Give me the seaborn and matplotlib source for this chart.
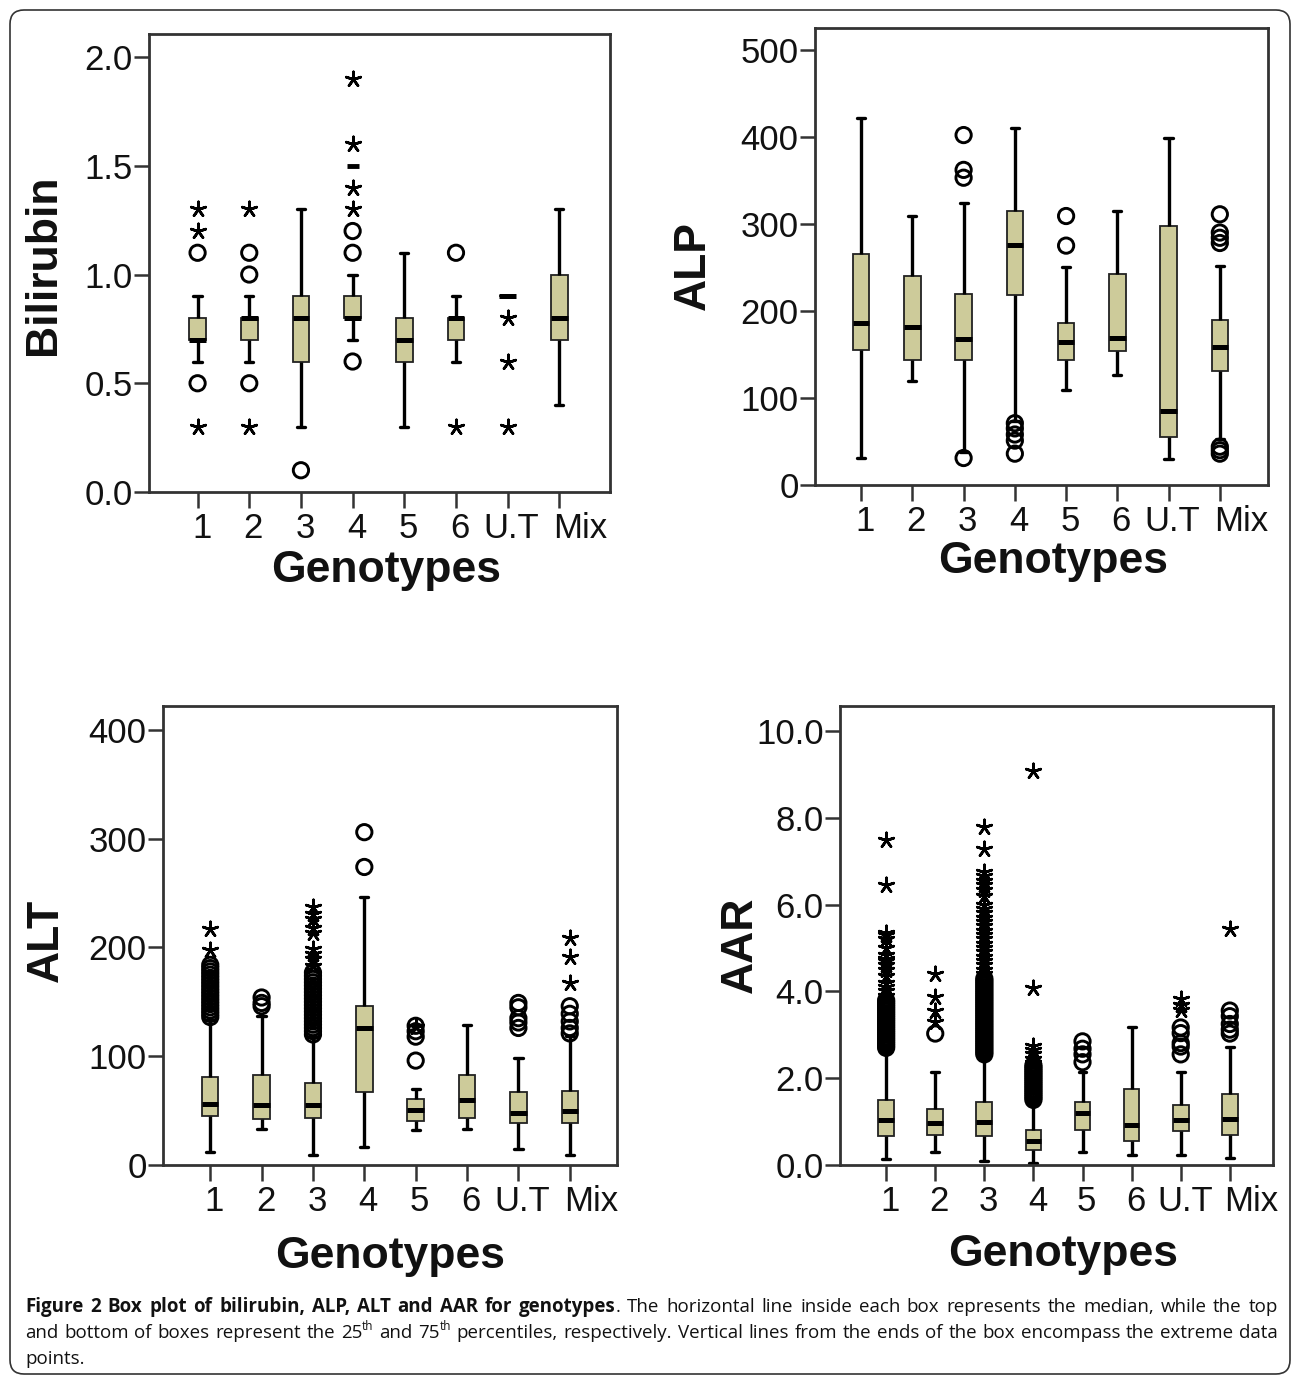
import matplotlib
matplotlib.use("Agg")
import pandas as pd
import matplotlib.pyplot as plt
import seaborn as sns
from matplotlib import font_manager as fm
from matplotlib.patches import FancyBboxPatch
from matplotlib.transforms import IdentityTransform, ScaledTranslation
from matplotlib.ticker import FormatStrFormatter

# ---------------- data ----------------
genotypes = ["1", "2", "3", "4", "5", "6", "U.T", "Mix"]

# Bilirubin: five-number summary per genotype (lower whisker, Q1, median, Q3, upper whisker)
bil_low = [0.6, 0.6, 0.3, 0.7, 0.3, 0.6, 0.9, 0.4]
bil_q1 = [0.7, 0.7, 0.6, 0.8, 0.6, 0.7, 0.9, 0.7]
bil_med = [0.7, 0.8, 0.8, 0.8, 0.7, 0.8, 0.9, 0.8]
bil_q3 = [0.8, 0.8, 0.9, 0.9, 0.8, 0.8, 0.9, 1.0]
bil_high = [0.9, 0.9, 1.3, 1.0, 1.1, 0.9, 0.9, 1.3]
bil_circles = {"1": [1.1, 0.5], "2": [1.1, 1.0, 0.5], "3": [0.1],
               "4": [1.1, 1.2, 0.6], "6": [1.1]}
bil_stars = {"1": [1.3, 1.2, 0.3], "2": [1.3, 0.3], "4": [1.3, 1.4, 1.6, 1.9],
             "6": [0.3], "U.T": [0.8, 0.6, 0.3]}
bil_dashes = {"4": [1.5]}

# ALP
alp_low = [31, 119, 38, 74, 109, 126, 30, 53]
alp_q1 = [155, 144, 144, 218, 144, 154, 55, 131]
alp_med = [186, 182, 168, 276, 164, 169, 85, 159]
alp_q3 = [265, 240, 219, 315, 186, 242, 297, 189]
alp_high = [422, 309, 324, 410, 250, 315, 399, 252]
alp_circles = {"3": [402, 362, 353, 31], "4": [71, 65, 58, 51, 36],
               "5": [309, 275], "Mix": [311, 290, 284, 278, 44, 40, 36]}
alp_stars = {}
alp_dashes = {}

# ALT
alt_low = [12, 33, 9, 17, 32, 33, 15, 9]
alt_q1 = [45, 42, 43, 67, 40, 43, 39, 39]
alt_med = [56, 55, 55, 126, 51, 60, 48, 50]
alt_q3 = [81, 83, 75, 146, 61, 83, 67, 68]
alt_high = [133, 137, 118, 246, 70, 129, 98, 119]
alt_circles = {
    "1": [136, 139, 142, 145, 148, 151, 154, 157, 160, 163, 166, 169, 172, 175, 178, 181, 184],
    "2": [154, 149, 146],
    "3": [120, 123, 126, 129, 132, 135, 138, 141, 144, 147, 150, 153, 156, 159, 162, 165,
          168, 171, 174, 177],
    "4": [306, 274],
    "5": [96, 118, 123, 128],
    "U.T": [149, 145, 135, 131, 126],
    "Mix": [146, 139, 132, 126, 121],
}
alt_stars = {"1": [217, 198], "3": [237, 231, 226, 218, 213, 199, 194, 189, 183],
             "5": [127], "Mix": [209, 191, 167]}
alt_dashes = {}

# AAR
aar_low = [0.13, 0.29, 0.10, 0.05, 0.31, 0.22, 0.22, 0.16]
aar_q1 = [0.66, 0.70, 0.66, 0.35, 0.81, 0.55, 0.79, 0.70]
aar_med = [1.03, 0.97, 0.99, 0.55, 1.19, 0.92, 1.03, 1.06]
aar_q3 = [1.50, 1.29, 1.45, 0.81, 1.45, 1.76, 1.38, 1.63]
aar_high = [2.64, 2.15, 2.50, 1.45, 2.15, 3.17, 2.15, 2.73]
aar_circles = {
    "1": [2.70, 2.75, 2.80, 2.85, 2.90, 2.95, 3.00, 3.05, 3.10, 3.15, 3.20, 3.25, 3.30,
          3.35, 3.40, 3.45, 3.50, 3.55, 3.60, 3.65, 3.70, 3.75, 3.80],
    "2": [3.03],
    "3": [2.55, 2.60, 2.65, 2.70, 2.75, 2.80, 2.85, 2.90, 2.95, 3.00, 3.05, 3.10, 3.15,
          3.20, 3.25, 3.30, 3.35, 3.40, 3.45, 3.50, 3.55, 3.60, 3.65, 3.70, 3.75, 3.80,
          3.85, 3.90, 3.95, 4.00, 4.05, 4.10, 4.15, 4.20, 4.25, 4.30],
    "4": [1.50, 1.55, 1.60, 1.65, 1.70, 1.75, 1.80, 1.85, 1.90, 1.95, 2.00, 2.05, 2.10,
          2.15, 2.20, 2.25, 2.30],
    "5": [2.37, 2.55, 2.68, 2.85],
    "U.T": [2.55, 2.73, 2.81, 3.04, 3.17],
    "Mix": [3.03, 3.12, 3.25, 3.43, 3.56],
}
aar_stars = {
    "1": [3.90, 4.00, 4.10, 4.20, 4.35, 4.50, 4.60, 4.70, 4.75, 4.85, 5.00, 5.20, 5.30,
          5.35, 6.45, 7.50],
    "2": [4.40, 3.87, 3.56, 3.30],
    "3": [4.40, 4.50, 4.60, 4.70, 4.80, 4.90, 5.00, 5.10, 5.20, 5.30, 5.40, 5.50, 5.60,
          5.70, 5.80, 5.90, 6.00, 6.20, 6.35, 6.45, 6.55, 6.65, 6.75, 7.28, 7.78],
    "4": [2.35, 2.45, 2.55, 2.65, 2.75, 4.09, 9.08],
    "U.T": [3.58, 3.69, 3.83],
    "Mix": [5.44],
}
aar_dashes = {}

# ---------------- style ----------------
W, H = 1293, 1376
sns.set_theme(style="white")
MAIN_FONT = ["Liberation Sans", "DejaVu Sans"]
plt.rcParams["font.family"] = MAIN_FONT
BOX_COLOR = "#cdcb9a"
EDGE = "#222222"
AX_COLOR = "#333333"


def pick_font(names):
    for n in names:
        try:
            fm.findfont(fm.FontProperties(family=n), fallback_to_default=False)
            return n
        except Exception:
            pass
    return "DejaVu Sans"


CAP_FONT = pick_font(["Open Sans", "Noto Sans", "Liberation Sans"])

fig = plt.figure(figsize=(W / 100, H / 100), dpi=100)
fig.patch.set_facecolor("white")


def px_axes(left, right, top, bottom):
    return fig.add_axes([left / W, 1 - bottom / H, (right - left) / W, (bottom - top) / H])


def box_frame(low, q1, med, q3, high):
    rows = []
    for g, a, b, c, d, e in zip(genotypes, low, q1, med, q3, high):
        for v in (a, b, c, d, e):
            rows.append((g, v))
    return pd.DataFrame(rows, columns=["genotype", "value"])


def groups_frame(groups):
    cats, vals = [], []
    for g, vs in groups.items():
        cats += [g] * len(vs)
        vals += list(vs)
    return pd.DataFrame({"genotype": cats, "value": vals})


def draw_points(ax, groups, kind):
    df = groups_frame(groups)
    if df.empty:
        return
    if kind == "circle":
        sns.stripplot(data=df, x="genotype", y="value", order=genotypes, jitter=False,
                      marker="o", size=11, linewidth=2.1, color="black",
                      edgecolor="black", facecolors="none", ax=ax, zorder=5)
    elif kind == "star":
        sns.stripplot(data=df, x="genotype", y="value", order=genotypes, jitter=False,
                      marker=(5, 2, 0), size=11, linewidth=1.9, color="black",
                      ax=ax, zorder=5)
    else:
        sns.stripplot(data=df, x="genotype", y="value", order=genotypes, jitter=False,
                      marker="_", size=8, linewidth=3.5, color="black", ax=ax, zorder=5)


def panel(ax, low, q1, med, q3, high, circles, stars, dashes, ylabel, yticks, fmt,
          ylim, xlim, xlab_pos, ylab_pos):
    df = box_frame(low, q1, med, q3, high)
    sns.boxplot(data=df, x="genotype", y="value", order=genotypes, whis=(0, 100),
                width=0.32, color=BOX_COLOR, saturation=1, linecolor=EDGE, linewidth=1.3,
                showfliers=False,
                medianprops=dict(color="black", linewidth=3.6),
                whiskerprops=dict(color="black", linewidth=2.4),
                capprops=dict(color="black", linewidth=2.4),
                ax=ax)
    draw_points(ax, circles, "circle")
    draw_points(ax, stars, "star")
    draw_points(ax, dashes, "dash")

    ax.set_xlim(*xlim)
    ax.set_ylim(*ylim)
    ax.set_xticks(range(len(genotypes)))
    ax.set_yticks(yticks)
    ax.yaxis.set_major_formatter(FormatStrFormatter(fmt))
    ax.tick_params(axis="both", direction="out", bottom=True, left=True,
                   color=AX_COLOR, width=1.8)
    ax.tick_params(axis="x", length=11.5, pad=3)
    ax.tick_params(axis="y", length=10.8, pad=1)
    ax.set_xticklabels(genotypes, fontsize=25, color="#111111")
    for t in ax.get_yticklabels():
        t.set_fontsize(25)
        t.set_color("#111111")
    # tick labels sit slightly right of their ticks; "Mix" noticeably so
    for i, tk in enumerate(ax.xaxis.get_major_ticks()):
        dx = 21 if i == len(genotypes) - 1 else 4
        lab = tk.label1
        lab.set_transform(lab.get_transform()
                          + ScaledTranslation(dx / 100, 0, fig.dpi_scale_trans))
    for s in ax.spines.values():
        s.set_visible(True)
        s.set_color(AX_COLOR)
        s.set_linewidth(2.0)
    ax.set_xlabel("Genotypes", fontsize=32, fontweight="bold", color="#111111")
    ax.xaxis.set_label_coords(*xlab_pos)
    ax.xaxis.label.set_va("center")
    ax.set_ylabel(ylabel, fontsize=32, fontweight="bold", color="#111111")
    ax.yaxis.set_label_coords(*ylab_pos)
    ax.yaxis.label.set_va("center")
    ax.grid(False)


ax1 = px_axes(149, 610, 34, 492)
panel(ax1, bil_low, bil_q1, bil_med, bil_q3, bil_high, bil_circles, bil_stars, bil_dashes,
      "Bilirubin", [0.0, 0.5, 1.0, 1.5, 2.0], "%.1f", (0, 2.106), (-0.94, 7.98),
      (0.515, -0.171), (-0.228, 0.497))

ax2 = px_axes(815, 1268, 28, 485)
panel(ax2, alp_low, alp_q1, alp_med, alp_q3, alp_high, alp_circles, alp_stars, alp_dashes,
      "ALP", [0, 100, 200, 300, 400, 500], "%d", (0, 525), (-0.9, 7.94),
      (0.525, -0.168), (-0.269, 0.48))

ax3 = px_axes(163, 617, 706, 1165)
panel(ax3, alt_low, alt_q1, alt_med, alt_q3, alt_high, alt_circles, alt_stars, alt_dashes,
      "ALT", [0, 100, 200, 300, 400], "%d", (0, 422), (-0.92, 7.92),
      (0.5, -0.2), (-0.256, 0.49))

ax4 = px_axes(840, 1273, 706, 1165)
panel(ax4, aar_low, aar_q1, aar_med, aar_q3, aar_high, aar_circles, aar_stars, aar_dashes,
      "AAR", [0.0, 2.0, 4.0, 6.0, 8.0, 10.0], "%.1f", (0, 10.58), (-0.94, 7.88),
      (0.515, -0.196), (-0.231, 0.48))

# ---------------- caption ----------------
cap_bold = "Figure 2 Box plot of bilirubin, ALP, ALT and AAR for genotypes"
cap_line1_rest = ". The horizontal line inside each box represents the median, while the top"
cap_line2 = ("and bottom of boxes represent the 25^th and 75^th percentiles, respectively. "
             "Vertical lines from the ends of the box encompass the extreme data")
cap_line3 = "points."

fig.canvas.draw()
renderer = fig.canvas.get_renderer()


def cap_text(x, y, text, size, weight):
    return fig.text(x, y, text, fontsize=size, fontweight=weight, family=CAP_FONT,
                    va="baseline", ha="left", color="#111111")


def measure(text, weight, size):
    t = cap_text(0, 0, text, size, weight)
    w = t.get_window_extent(renderer).width
    t.remove()
    return w


def words_normal(s):
    out = []
    for w in s.split():
        if "^" in w:
            base, sup = w.split("^")
            out.append([(base, "n"), (sup, "s")])
        else:
            out.append([(w, "n")])
    return out


line1 = [[(w, "b")] for w in cap_bold.split()]
rest = cap_line1_rest.split()
line1[-1].append((rest[0], "n"))
line1 += [[(w, "n")] for w in rest[1:]]
line2 = words_normal(cap_line2)
line3 = words_normal(cap_line3)

X0, X1 = 25, 1278


def piece_w(text, style, size):
    if style == "b":
        return measure(text, "bold", size)
    if style == "s":
        return measure(text, "normal", size * 0.62)
    return measure(text, "normal", size)


def line_natural(words, size):
    sp = measure("a a", "normal", size) - measure("aa", "normal", size)
    ws = [sum(piece_w(t, st, size) for t, st in w) for w in words]
    return sum(ws) + sp * (len(words) - 1), ws, sp


base_size = 14.0
nat2, _, _ = line_natural(line2, base_size)
nat1, _, _ = line_natural(line1, base_size)
target = X1 - X0
cap_size = base_size * max(0.8, min(1.08, 0.995 * target / max(nat2, nat1)))


def draw_line(words, y_base, justify):
    nat, ws, sp = line_natural(words, cap_size)
    gap = (target - sum(ws)) / (len(words) - 1) if (justify and len(words) > 1) else sp
    x = X0
    em = cap_size * 100 / 72
    for w, wd in zip(words, ws):
        xx = x
        for t, st in w:
            if st == "b":
                cap_text(xx / W, 1 - y_base / H, t, cap_size, "bold")
            elif st == "s":
                cap_text(xx / W, 1 - (y_base - 0.42 * em) / H, t, cap_size * 0.62, "normal")
            else:
                cap_text(xx / W, 1 - y_base / H, t, cap_size, "normal")
            xx += piece_w(t, st, cap_size)
        x += wd + gap


draw_line(line1, 1312, True)
draw_line(line2, 1338, True)
draw_line(line3, 1364, False)

border = FancyBboxPatch((10, 2), 1280, 1364, boxstyle="round,pad=0,rounding_size=14",
                        transform=IdentityTransform(), facecolor="none",
                        edgecolor="#333333", linewidth=1.2)
fig.patches.append(border)

fig.savefig("out.png", dpi=100, facecolor="white")
